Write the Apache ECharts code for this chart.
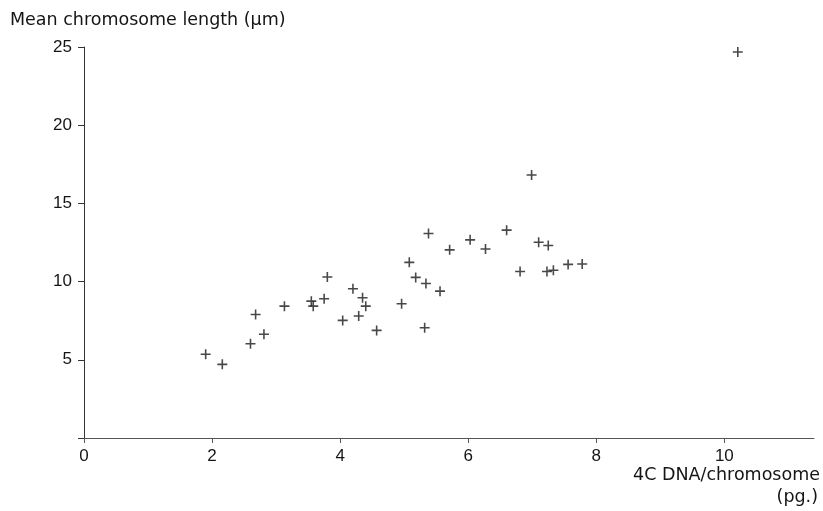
<!DOCTYPE html>
<html>
<head>
<meta charset="utf-8">
<script src="https://cdn.jsdelivr.net/npm/echarts@6/dist/echarts.min.js"></script>
<style>
  html, body { margin: 0; padding: 0; background: #fff; }
  #chart { width: 823px; height: 511px; }
</style>
</head>
<body>
<div id="chart"></div>
<script>
// 4C DNA per chromosome (pg.)
var dnaValues = [1.90, 2.16, 2.60, 2.81, 2.68, 3.13, 3.55, 3.58, 3.75, 3.80,
	4.04, 4.20, 4.35, 4.40, 4.29, 4.57, 4.96, 5.08, 5.18, 5.34,
	5.32, 5.56, 5.38, 5.71, 6.03, 6.99, 6.27, 6.60, 7.10, 7.25,
	6.81, 7.23, 7.33, 7.56, 7.78, 10.21];
// mean chromosome length (um)
var lengthValues = [5.35, 4.71, 6.03, 6.63, 7.90, 8.43, 8.75, 8.43, 8.90, 10.29,
	7.52, 9.54, 8.97, 8.43, 7.80, 6.88, 8.58, 11.23, 10.27, 9.88,
	7.05, 9.39, 13.08, 12.03, 12.67, 16.82, 12.08, 13.29, 12.52, 12.31,
	10.65, 10.65, 10.73, 11.10, 11.12, 24.68];

var xTicks = [0, 2, 4, 6, 8, 10];
var yTicks = [0, 5, 10, 15, 20, 25];
var yLabels = [5, 10, 15, 20, 25];

var tickFont = 'Liberation Sans, Arial, sans-serif';
var textFont = 'DejaVu Sans, sans-serif';
var ink = '#151515';

var points = [];
for (var i = 0; i < dnaValues.length; i++) {
	points.push([dnaValues[i], lengthValues[i]]);
}

var chart = echarts.init(document.getElementById('chart'));

var option = {
	backgroundColor: '#fff',
	animation: false,
	grid: {
		left: 84,
		right: 9,
		top: 47,
		bottom: 73
	},
	xAxis: {
		type: 'value',
		min: 0,
		max: 11.4,
		splitLine: { show: false },
		axisLine: { onZero: false, lineStyle: { color: '#555', width: 1 } },
		axisTick: { length: 5, customValues: xTicks, lineStyle: { color: '#555' } },
		axisLabel: {
			customValues: xTicks,
			margin: 10,
			color: ink,
			fontSize: 17,
			fontFamily: tickFont
		}
	},
	yAxis: {
		type: 'value',
		min: 0,
		max: 25,
		splitLine: { show: false },
		axisLine: { onZero: false, lineStyle: { color: '#333', width: 1 } },
		axisTick: { length: 6, customValues: yTicks, lineStyle: { color: '#333' } },
		axisLabel: {
			customValues: yLabels,
			margin: 12,
			color: ink,
			fontSize: 17,
			fontFamily: tickFont
		}
	},
	graphic: [
		{
			type: 'text',
			left: 10,
			top: 11,
			style: { text: 'Mean chromosome length (\u03bcm)', fill: ink, font: '17.5px ' + textFont }
		},
		{
			type: 'text',
			right: 3,
			top: 466,
			style: { text: '4C DNA/chromosome', fill: ink, font: '17.5px ' + textFont }
		},
		{
			type: 'text',
			right: 5,
			top: 488,
			style: { text: '(pg.)', fill: ink, font: '17.5px ' + textFont }
		}
	],
	series: [
		{
			type: 'scatter',
			symbol: 'path://M4,0h1.5v4h4v1.5h-4v4h-1.5v-4h-4v-1.5h4z',
			symbolSize: 10,
			itemStyle: { color: '#1a1a1a' },
			data: points
		}
	]
};

chart.setOption(option);
</script>
</body>
</html>
